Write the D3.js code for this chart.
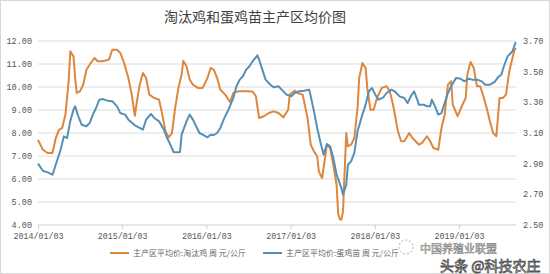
<!DOCTYPE html>
<html>
<head>
<meta charset="utf-8">
<script src="https://cdn.jsdelivr.net/npm/d3@7"></script>
<style>
  body { margin: 0; background: #fff; }
  text { font-family: "Liberation Mono", "DejaVu Sans Mono", monospace; }
  .cjk { font-family: "Noto Sans CJK SC", sans-serif; }
</style>
</head>
<body>
<div id="chart"></div>
<script>
// weekly data, week index counted from 2014/01/03
const cullWeeks = [0,3,6,9,11,13,15,17,19,20,22,23,24,26,28,30,32,35,37,40,44,46,49,51,53,56,58,60,61,63,65,67,69,72,75,77,79,81,83,85,87,89,90,92,94,96,99,102,105,107,109,111,113,116,119,121,124,128,133,135,137,140,143,146,149,152,155,156,159,161,164,167,169,171,173,174,176,177,179,181,183,185,186,187,188,189,190,191,192,194,196,198,199,201,203,204,206,208,210,213,216,218,220,223,225,227,230,232,234,236,238,241,243,245,248,250,252,254,256,257,260,263,265,266,268,270,272,274,276,278,280,282,284,286,288,290,292,295,296];
const cullPrice = [7.70,7.27,7.13,7.13,7.78,8.14,8.22,8.80,10.25,11.55,11.33,10.39,9.74,9.81,10.10,10.75,10.97,11.26,11.12,11.12,11.19,11.62,11.62,11.48,11.12,10.39,9.70,8.75,9.23,10.10,10.61,10.39,9.67,9.52,9.45,8.80,8.07,7.81,8.00,9.09,9.96,10.54,11.14,10.90,10.32,10.10,9.96,9.96,10.39,10.83,10.75,10.39,9.88,9.67,9.35,9.74,9.81,9.81,9.80,9.60,8.65,8.73,8.87,8.94,8.87,8.68,9.01,9.67,9.84,9.74,9.67,8.65,7.49,7.20,6.99,6.33,6.04,6.50,7.49,7.35,6.62,5.75,4.50,4.25,4.23,4.59,6.33,8.00,7.42,7.49,7.78,9.09,10.39,11.04,10.83,9.96,9.01,9.01,9.52,9.96,10.03,9.81,9.23,8.07,7.64,7.64,8.00,7.78,7.64,7.49,7.57,7.86,7.64,7.35,7.27,8.22,8.80,10.10,10.25,9.23,8.73,9.23,9.52,10.54,11.09,10.83,10.03,10.03,9.59,9.09,8.51,8.00,7.86,9.52,9.52,9.67,10.68,11.55,11.70];

const chickWeeks = [0,3,6,9,11,14,16,18,20,22,23,25,27,30,32,34,36,38,40,43,46,49,51,54,56,60,63,65,67,70,72,75,78,80,82,84,86,88,89,92,94,96,98,100,102,105,107,109,111,113,115,118,121,123,125,127,129,131,133,136,137,139,141,144,146,149,151,154,157,159,162,165,168,169,171,173,175,177,179,181,183,185,188,189,191,192,194,196,198,201,203,205,207,209,211,214,216,219,221,224,227,229,231,233,235,236,239,241,243,244,246,248,250,252,254,256,259,262,264,267,269,272,275,277,280,283,285,287,289,291,294,296];
const chickPrice = [2.90,2.854,2.843,2.828,2.893,2.991,3.078,3.067,3.176,3.252,3.274,3.209,3.154,3.144,3.165,3.22,3.263,3.317,3.322,3.311,3.307,3.274,3.23,3.22,3.187,3.15,3.133,3.122,3.187,3.224,3.198,3.176,3.122,3.067,3.024,2.976,2.974,2.976,3.089,3.176,3.22,3.187,3.144,3.10,3.089,3.072,3.089,3.087,3.10,3.133,3.187,3.252,3.328,3.405,3.448,3.47,3.513,3.535,3.568,3.607,3.578,3.513,3.448,3.415,3.398,3.405,3.383,3.35,3.339,3.361,3.372,3.376,3.383,3.339,3.241,3.133,3.04,2.958,3.028,3.013,2.937,2.828,2.741,2.698,2.763,2.893,2.915,2.97,3.111,3.22,3.285,3.372,3.393,3.35,3.317,3.333,3.361,3.383,3.372,3.339,3.328,3.296,3.339,3.372,3.317,3.285,3.285,3.274,3.274,3.317,3.274,3.22,3.23,3.296,3.361,3.405,3.459,3.454,3.437,3.454,3.448,3.448,3.437,3.415,3.415,3.433,3.463,3.48,3.545,3.60,3.633,3.693];

const leftTicks = [4, 5, 6, 7, 8, 9, 10, 11, 12];
const rightTicks = [2.5, 2.7, 2.9, 3.1, 3.3, 3.5, 3.7];
const yearTicks = ["2014/01/03", "2015/01/03", "2016/01/03", "2017/01/03", "2018/01/03", "2019/01/03"];

const width = 550, height = 274;
const plotTop = 41, plotBottom = 225, plotLeft = 38, plotRight = 516;
const orange = "#de873c", blue = "#5590b4";

const parse = d3.utcParse("%Y/%m/%d");
const start = parse("2014/01/03");
const toDate = w => d3.utcDay.offset(start, w * 7);

const svg = d3.select("#chart").append("svg")
    .attr("width", width)
    .attr("height", height);

svg.append("rect")
    .attr("x", 0.5).attr("y", 0.5)
    .attr("width", width - 1).attr("height", height - 1)
    .attr("fill", "#fff").attr("stroke", "#d8d8d8");

const x = d3.scaleUtc()
    .domain([parse(yearTicks[0]), parse(yearTicks[5])])
    .range([plotLeft, 459]);
const yLeft = d3.scaleLinear().domain([4, 12]).range([plotBottom, plotTop]);
const yRight = d3.scaleLinear().domain([2.5, 3.7]).range([plotBottom, plotTop]);

// title
svg.append("text")
    .attr("class", "cjk")
    .attr("x", 255).attr("y", 22)
    .attr("text-anchor", "middle")
    .attr("font-size", 14)
    .attr("fill", "#404040")
    .text("淘汰鸡和蛋鸡苗主产区均价图");

// gridlines
svg.append("g").selectAll("line")
  .data(leftTicks.slice(1))
  .join("line")
    .attr("x1", plotLeft).attr("x2", plotRight)
    .attr("y1", d => yLeft(d)).attr("y2", d => yLeft(d))
    .attr("stroke", "#dcdcdc");

// left labels
svg.append("g").selectAll("text")
  .data(leftTicks)
  .join("text")
    .attr("x", 32).attr("y", d => yLeft(d) + 3)
    .attr("text-anchor", "end")
    .attr("font-size", 8.5)
    .attr("fill", "#555")
    .text(d3.format(".2f"));

// right labels
svg.append("g").selectAll("text")
  .data(rightTicks)
  .join("text")
    .attr("x", 523).attr("y", d => yRight(d) + 3)
    .attr("font-size", 8.5)
    .attr("fill", "#555")
    .text(d3.format(".2f"));

// x axis
const xAxis = svg.append("g")
    .attr("transform", `translate(0,${plotBottom})`)
    .call(d3.axisBottom(x)
      .tickValues(yearTicks.map(parse))
      .tickFormat(d3.utcFormat("%Y/%m/%d"))
      .tickSize(4)
      .tickSizeOuter(0));
xAxis.select(".domain").attr("stroke", "#cfcfcf").attr("d", `M${plotLeft},0H${plotRight}`);
xAxis.selectAll(".tick line").attr("stroke", "#cfcfcf");
xAxis.selectAll(".tick text")
    .attr("y", 8)
    .attr("font-size", 8.3)
    .attr("font-family", "Liberation Mono, monospace")
    .attr("fill", "#555");

// lines
const cullLine = d3.line()
    .x((d, i) => x(toDate(cullWeeks[i])))
    .y(d => yLeft(d));
const chickLine = d3.line()
    .x((d, i) => x(toDate(chickWeeks[i])))
    .y(d => yRight(d));

svg.append("path")
    .datum(cullPrice)
    .attr("fill", "none")
    .attr("stroke", orange)
    .attr("stroke-width", 2)
    .attr("stroke-linejoin", "round")
    .attr("d", cullLine);

svg.append("path")
    .datum(chickPrice)
    .attr("fill", "none")
    .attr("stroke", blue)
    .attr("stroke-width", 2)
    .attr("stroke-linejoin", "round")
    .attr("d", chickLine);

// legend
const legend = [
  { label: "主产区平均价:淘汰鸡  周  元/公斤", color: orange, x: 110 },
  { label: "主产区平均价:蛋鸡苗  周  元/公斤", color: blue, x: 263 }
];
const lg = svg.append("g").selectAll("g")
  .data(legend)
  .join("g")
    .attr("transform", d => `translate(${d.x},253)`);
lg.append("line")
    .attr("x1", 0).attr("x2", 19)
    .attr("stroke", d => d.color)
    .attr("stroke-width", 2);
lg.append("text")
    .attr("class", "cjk")
    .attr("x", 23).attr("y", 3)
    .attr("font-size", 8)
    .attr("fill", "#666")
    .text(d => d.label);

// watermark
svg.append("circle")
    .attr("cx", 406).attr("cy", 247).attr("r", 7)
    .attr("fill", "none").attr("stroke", "#aaa").attr("stroke-dasharray", "2,2");
svg.append("text")
    .attr("class", "cjk")
    .attr("x", 420).attr("y", 253)
    .attr("font-size", 11)
    .attr("fill", "#fff")
    .attr("stroke", "#888")
    .attr("stroke-width", 0.6)
    .text("中国养殖业联盟");
svg.append("text")
    .attr("class", "cjk")
    .attr("x", 440).attr("y", 271)
    .attr("font-size", 14)
    .attr("fill", "#fff")
    .attr("stroke", "#555")
    .attr("stroke-width", 0.8)
    .text("头条 @科技农庄");
</script>
</body>
</html>
